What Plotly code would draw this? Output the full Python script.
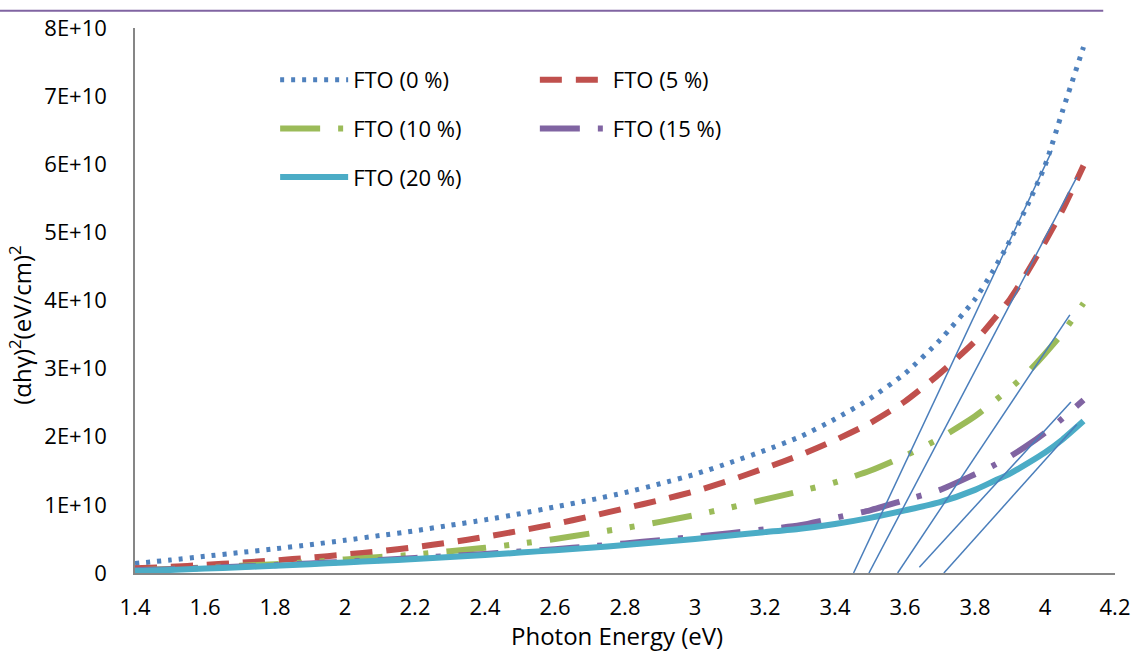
import plotly.graph_objects as go

# Photon energy (eV)
energy = [1.4, 1.5, 1.6, 1.7, 1.8, 1.9, 2.0, 2.1, 2.2, 2.3, 2.4, 2.5, 2.6, 2.7,
          2.8, 2.9, 3.0, 3.1, 3.2, 3.3, 3.4, 3.5, 3.6, 3.7, 3.8, 3.85, 3.9, 3.95,
          4.0, 4.05, 4.11]

# (alpha h nu)^2 in units of 1e10 (eV/cm)^2
fto_0 = [0.14, 0.19, 0.245, 0.30, 0.355, 0.415, 0.48, 0.55, 0.62, 0.70, 0.78, 0.87,
         0.97, 1.07, 1.18, 1.31, 1.45, 1.62, 1.80, 2.00, 2.26, 2.56, 2.93, 3.42,
         4.02, 4.42, 4.88, 5.40, 5.98, 6.78, 7.72]
fto_5 = [0.07, 0.09, 0.12, 0.15, 0.185, 0.225, 0.27, 0.32, 0.38, 0.45, 0.53, 0.62,
         0.72, 0.83, 0.95, 1.07, 1.20, 1.36, 1.54, 1.73, 1.95, 2.20, 2.52, 2.93,
         3.40, 3.70, 4.02, 4.42, 4.86, 5.33, 5.98]
fto_10 = [0.04, 0.06, 0.08, 0.105, 0.13, 0.16, 0.20, 0.235, 0.27, 0.32, 0.37, 0.43,
          0.50, 0.58, 0.66, 0.75, 0.85, 0.96, 1.08, 1.20, 1.33, 1.50, 1.72, 1.98,
          2.30, 2.50, 2.71, 2.94, 3.22, 3.52, 3.96]
fto_15 = [0.04, 0.055, 0.075, 0.095, 0.115, 0.14, 0.165, 0.19, 0.22, 0.25, 0.28,
          0.315, 0.35, 0.39, 0.435, 0.48, 0.53, 0.585, 0.64, 0.70, 0.81, 0.92, 1.07,
          1.22, 1.45, 1.57, 1.71, 1.875, 2.06, 2.27, 2.54]
fto_20 = [0.03, 0.045, 0.065, 0.085, 0.105, 0.13, 0.155, 0.18, 0.205, 0.235, 0.265,
          0.30, 0.335, 0.37, 0.41, 0.455, 0.50, 0.55, 0.60, 0.65, 0.72, 0.81, 0.92,
          1.04, 1.22, 1.34, 1.46, 1.61, 1.77, 1.96, 2.23]

series_names = ["FTO (0 %)", "FTO (5 %)", "FTO (10 %)", "FTO (15 %)", "FTO (20 %)"]
series_values = [fto_0, fto_5, fto_10, fto_15, fto_20]
series_colors = ["#4F81BD", "#C0504D", "#9BBB59", "#8064A2", "#4BACC6"]
series_dash = ["4px,7px", "22px,14px", "40px,18px,5px,18px,5px,18px",
               "40px,18px,5px,18px", "solid"]
series_width = [5, 6, 6, 6, 6]
series_legend = ["legend", "legend2", "legend", "legend2", "legend"]

# Linear extrapolations of the absorption edge (band-gap tangents)
tangent_e0 = [3.453, 3.497, 3.579, 3.641, 3.711]
tangent_v0 = [0.0, 0.0, 0.0, 0.086, 0.0]
tangent_e1 = [4.020, 4.091, 4.071, 4.074, 4.091]
tangent_v1 = [6.20, 5.81, 3.79, 2.51, 2.18]

x_ticks = [1.4, 1.6, 1.8, 2.0, 2.2, 2.4, 2.6, 2.8, 3.0, 3.2, 3.4, 3.6, 3.8, 4.0, 4.2]
x_tick_text = ["1.4", "1.6", "1.8", "2", "2.2", "2.4", "2.6", "2.8", "3", "3.2",
               "3.4", "3.6", "3.8", "4", "4.2"]
y_ticks = [0, 1, 2, 3, 4, 5, 6, 7, 8]
y_tick_text = ["0", "1E+10", "2E+10", "3E+10", "4E+10", "5E+10", "6E+10", "7E+10", "8E+10"]

SCALE = 1e10
FONT = "'Open Sans', 'Noto Sans', sans-serif"
NO_TICK = "rgba(0,0,0,0)"

fig = go.Figure()

for name, vals, color, dash, width, leg in zip(series_names, series_values, series_colors,
                                               series_dash, series_width, series_legend):
    fig.add_trace(go.Scatter(
        x=energy, y=[v * SCALE for v in vals], mode="lines", name=name,
        line=dict(color=color, width=width, dash=dash, shape="spline", smoothing=0.6),
        legend=leg, legendgroup=name,
    ))

for e0, v0, e1, v1 in zip(tangent_e0, tangent_v0, tangent_e1, tangent_v1):
    fig.add_trace(go.Scatter(
        x=[e0, e1], y=[v0 * SCALE, v1 * SCALE], mode="lines",
        line=dict(color="#4A7EBB", width=1.5), showlegend=False, hoverinfo="skip",
    ))

legend_common = dict(
    bgcolor="rgba(0,0,0,0)", borderwidth=0, font=dict(family=FONT, size=22, color="#000000"),
    itemwidth=68, tracegroupgap=17, xanchor="left", yanchor="top", traceorder="grouped",
)

fig.update_layout(
    width=1147, height=652,
    margin=dict(l=135, r=32, t=18, b=79, pad=0),
    paper_bgcolor="white", plot_bgcolor="white",
    font=dict(family=FONT, size=22, color="#000000"),
    hovermode=False,
    legend=dict(x=0.143, y=0.943, **legend_common),
    legend2=dict(x=0.408, y=0.943, **legend_common),
    xaxis=dict(
        range=[1.4, 4.2], tickvals=x_ticks, ticktext=x_tick_text,
        showgrid=False, zeroline=False, showline=True, linecolor="#868686", linewidth=1.5,
        ticks="outside", ticklen=14, tickcolor=NO_TICK, tickfont=dict(family=FONT, size=22),
    ),
    yaxis=dict(
        range=[0, 8 * SCALE], tickvals=[t * SCALE for t in y_ticks], ticktext=y_tick_text,
        showgrid=False, zeroline=False, showline=True, linecolor="#868686", linewidth=1.5,
        ticks="outside", ticklen=22, tickcolor=NO_TICK, tickfont=dict(family=FONT, size=22),
    ),
    annotations=[
        dict(text="Photon Energy (eV)", xref="paper", yref="paper", x=0.492, y=-0.115,
             xanchor="center", yanchor="middle", showarrow=False,
             font=dict(family=FONT, size=24)),
        dict(text="(αhγ)<sup>2</sup>(eV/cm)<sup>2</sup>", xref="paper", yref="paper",
             x=-0.117, y=0.456, xanchor="center", yanchor="middle", textangle=-90,
             showarrow=False, font=dict(family=FONT, size=24)),
    ],
    shapes=[
        dict(type="line", xref="paper", yref="paper", x0=-0.138, x1=0.988,
             y0=1.0315, y1=1.0315, line=dict(color="#8064A2", width=2)),
    ],
)

fig.write_html("out.html")
